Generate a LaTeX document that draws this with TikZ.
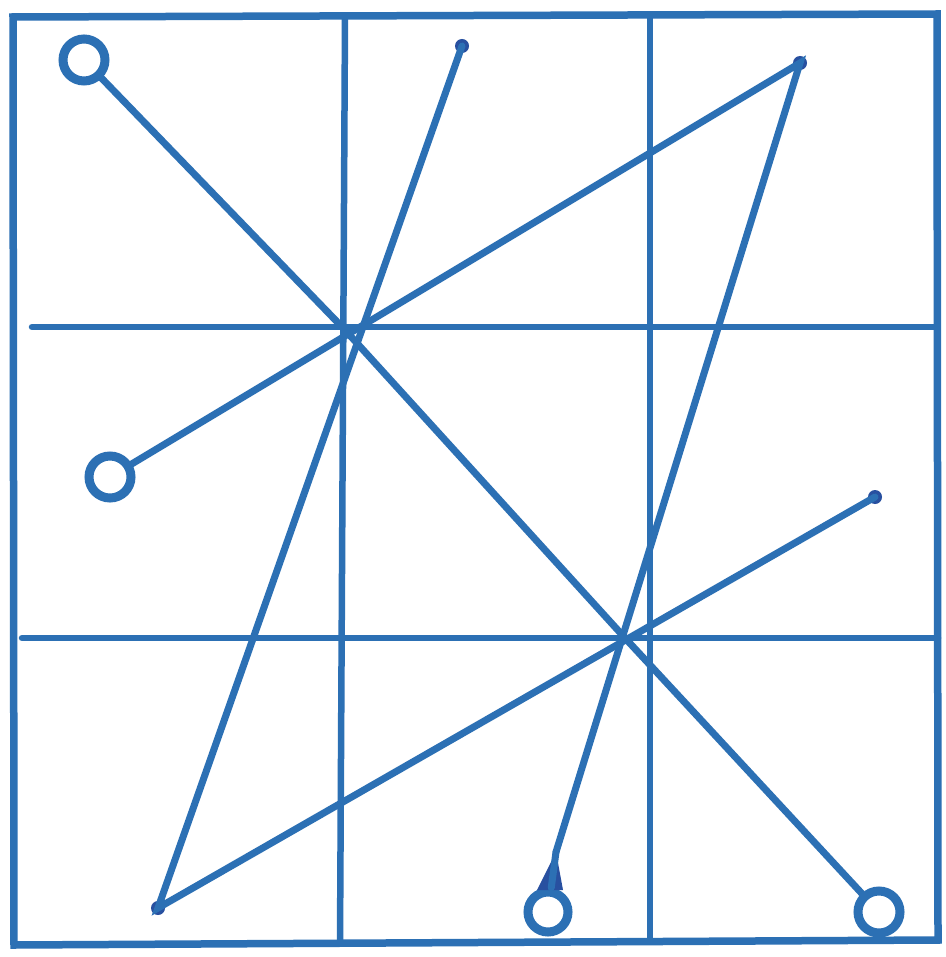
\documentclass[tikz,border=0pt]{standalone}
\definecolor{ink}{RGB}{44,112,180}
\definecolor{darkink}{RGB}{40,80,160}
\tikzset{
  gridline/.style={draw=ink,line width=6.5pt,line cap=round},
  stroke/.style={draw=ink,line width=7pt,line cap=round},
  ring/.style={circle,draw=ink,line width=9pt,minimum size=42pt,inner sep=0pt},
  blob/.style={circle,fill=darkink,minimum size=14pt,inner sep=0pt}
}
\begin{document}
\begin{tikzpicture}[x=1pt,y=-1pt]
\useasboundingbox[fill=white] (0,0) rectangle (945,957);
% frame
\coordinate (tl) at (13,17);
\coordinate (tr) at (937,14);
\coordinate (br) at (938,940);
\coordinate (bl) at (14,945);
\draw[gridline,line width=7.5pt] (tl) -- (tr) -- (br) -- (bl) -- cycle;
% grid
\coordinate (v1t) at (345,17);
\coordinate (v1b) at (340,943);
\coordinate (v2t) at (650,15);
\coordinate (v2b) at (650,941);
\coordinate (h1l) at (32,327);
\coordinate (h1r) at (936,327);
\coordinate (h2l) at (22,638);
\coordinate (h2r) at (938,638);
\draw[gridline] (v1t) -- (v1b);
\draw[gridline] (v2t) -- (v2b);
\draw[gridline] (h1l) -- (h1r);
\draw[gridline] (h2l) -- (h2r);
% end points
\node[ring] (r1) at (84,60) {};
\node[ring] (r2) at (110,477) {};
\node[ring,minimum size=40pt] (r3) at (548,912) {};
\node[ring] (r4) at (879,912) {};
\node[blob] (d1) at (462,46) {};
\node[blob] (d2) at (800,63) {};
\node[blob] (d3) at (158,908) {};
\node[blob] (d4) at (875,497) {};
\coordinate (c1) at (345,330);
\coordinate (c2) at (625,638);
\coordinate (t3) at (556,852);
% strokes
\draw[stroke] (r1) -- (c1) -- (c2) -- (r4);
\draw[stroke] (d1.center) -- (d3.center) -- (d4.center);
\draw[stroke] (r2) -- (d2.center) -- (t3);
\fill[darkink] (t3) -- (563,890) -- (537,890) -- cycle;
\draw[stroke] (t3) -- (r3);
\end{tikzpicture}
\end{document}
